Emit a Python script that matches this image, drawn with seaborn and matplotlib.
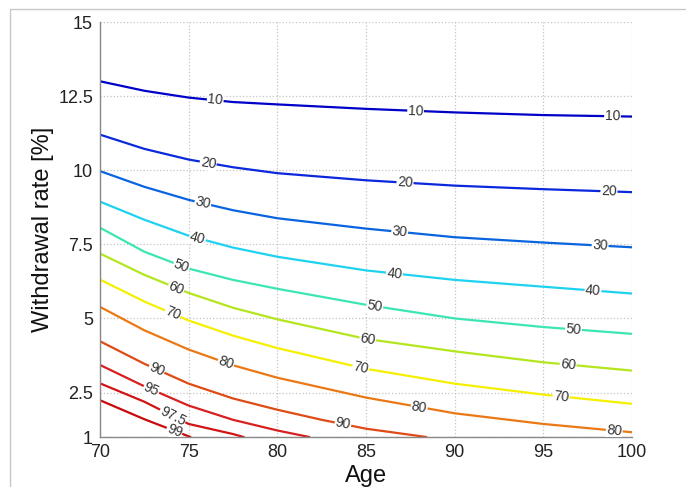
import numpy as np
import pandas as pd
import matplotlib
matplotlib.use("Agg")
import matplotlib.pyplot as plt
from matplotlib.lines import Line2D
import seaborn as sns

# ---------------- data ----------------
ages_full = [70, 72.5, 75, 77.5, 80, 85, 90, 95, 100]
rate_10 = [13.0, 12.68, 12.45, 12.3, 12.22, 12.07, 11.95, 11.86, 11.81]
rate_20 = [11.2, 10.72, 10.36, 10.1, 9.9, 9.66, 9.48, 9.36, 9.26]
rate_30 = [9.97, 9.44, 9.0, 8.65, 8.38, 8.03, 7.74, 7.56, 7.4]
rate_40 = [8.94, 8.33, 7.79, 7.39, 7.08, 6.62, 6.3, 6.07, 5.84]
rate_50 = [8.06, 7.25, 6.68, 6.3, 6.0, 5.46, 5.0, 4.71, 4.48]
rate_60 = [7.19, 6.47, 5.86, 5.36, 4.97, 4.31, 3.89, 3.52, 3.24]
rate_70 = [6.31, 5.57, 4.93, 4.42, 4.0, 3.3, 2.8, 2.43, 2.12]
rate_80 = [5.39, 4.6, 3.95, 3.42, 3.0, 2.33, 1.8, 1.44, 1.16]
ages_90 = [70, 72.5, 75, 77.5, 80, 82.5, 85, 88.4]
rate_90 = [4.23, 3.47, 2.8, 2.3, 1.92, 1.58, 1.28, 1.0]
ages_95 = [70, 72.5, 75, 77.5, 80, 81.8]
rate_95 = [3.43, 2.71, 2.06, 1.58, 1.22, 1.0]
ages_975 = [70, 72.5, 75, 77.5, 78.1]
rate_975 = [2.81, 2.19, 1.44, 1.1, 1.0]
ages_99 = [70, 72.5, 75.1]
rate_99 = [2.24, 1.6, 1.0]

levels = [10, 20, 30, 40, 50, 60, 70, 80, 90, 95, 97.5, 99]
level_ages = [ages_full] * 8 + [ages_90, ages_95, ages_975, ages_99]
level_rates = [rate_10, rate_20, rate_30, rate_40, rate_50, rate_60, rate_70,
               rate_80, rate_90, rate_95, rate_975, rate_99]
level_text = ["10", "20", "30", "40", "50", "60", "70", "80", "90", "95", "97.5", "99"]
level_colors = ["#0000c8", "#0a28dc", "#0a64e0", "#1ed2f0", "#3ce6b4", "#b4e61e",
                "#f5f000", "#eb7814", "#e04a14", "#d82020", "#d21414", "#c80a0a"]

x_ticks = [70, 75, 80, 85, 90, 95, 100]
y_ticks = [1, 2.5, 5, 7.5, 10, 12.5, 15]
y_tick_labels = ["1", "2.5", "5", "7.5", "10", "12.5", "15"]

# label placement (ages along each contour)
label_ages = [[76.5, 87.8, 98.9], [76.1, 87.2, 98.7], [75.8, 86.9, 98.2],
              [75.5, 86.6, 97.8], [74.6, 85.5, 96.7], [74.3, 85.1, 96.4],
              [74.1, 84.7, 96.0], [77.1, 88.0, 99.0], [73.2, 83.7],
              [72.9], [74.1], [74.2]]

# ---------------- build table ----------------
rows = []
for lv, a, r in zip(levels, level_ages, level_rates):
    for ai, ri in zip(a, r):
        rows.append({"age": ai, "rate": ri, "level": lv})
df = pd.DataFrame(rows)

palette = dict(zip(levels, level_colors))

sns.set_style("white")
plt.rcParams["font.family"] = ["Liberation Sans", "DejaVu Sans"]

fig = plt.figure(figsize=(6.86, 4.87), dpi=100)
ax = fig.add_axes([100 / 686, 1 - 437 / 487, 532 / 686, 415 / 487])

sns.lineplot(data=df, x="age", y="rate", hue="level", palette=palette,
             estimator=None, units="level", legend=False, linewidth=1.6, ax=ax)

ax.set_xlim(70, 100)
ax.set_ylim(1, 15)
ax.set_xticks(x_ticks)
ax.set_xticklabels([str(v) for v in x_ticks])
ax.set_yticks(y_ticks)
ax.set_yticklabels(y_tick_labels)
ax.tick_params(axis="both", direction="in", length=4, width=0.8,
               labelcolor="#222222", labelsize=13, color="#888888")
ax.tick_params(axis="x", pad=5)
ax.tick_params(axis="y", pad=5)
ax.grid(True, linestyle=":", color="#c4c4c4", linewidth=0.9)
for s in ["top", "right"]:
    ax.spines[s].set_visible(False)
for s in ["left", "bottom"]:
    ax.spines[s].set_color("#888888")
    ax.spines[s].set_linewidth(1.0)

ax.set_xlabel("Age", fontsize=17, color="#111111")
ax.set_ylabel("Withdrawal rate [%]", fontsize=17, color="#111111")
ax.xaxis.set_label_coords(0.5, -0.068)
ax.yaxis.set_label_coords(-0.087, 0.5)

# inline contour labels
fig.canvas.draw()
for lv, a, r, txt, spots in zip(levels, level_ages, level_rates, level_text, label_ages):
    for xa in spots:
        ya = np.interp(xa, a, r)
        p0 = ax.transData.transform((xa - 0.4, np.interp(xa - 0.4, a, r)))
        p1 = ax.transData.transform((xa + 0.4, np.interp(xa + 0.4, a, r)))
        ang = np.degrees(np.arctan2(p1[1] - p0[1], p1[0] - p0[0]))
        ax.text(xa, ya, txt, fontsize=10, color="#333333", rotation=ang,
                rotation_mode="anchor", ha="center", va="center",
                bbox=dict(boxstyle="square,pad=0.05", fc="white", ec="none"),
                zorder=5, clip_on=True)

# screenshot frame
fig.add_artist(Line2D([10 / 686, 10 / 686], [0, 1 - 9 / 487],
                      transform=fig.transFigure, color="#c8c8c8", lw=1))
fig.add_artist(Line2D([10 / 686, 1], [1 - 9 / 487, 1 - 9 / 487],
                      transform=fig.transFigure, color="#c8c8c8", lw=1))

fig.savefig("out.png", dpi=100)
